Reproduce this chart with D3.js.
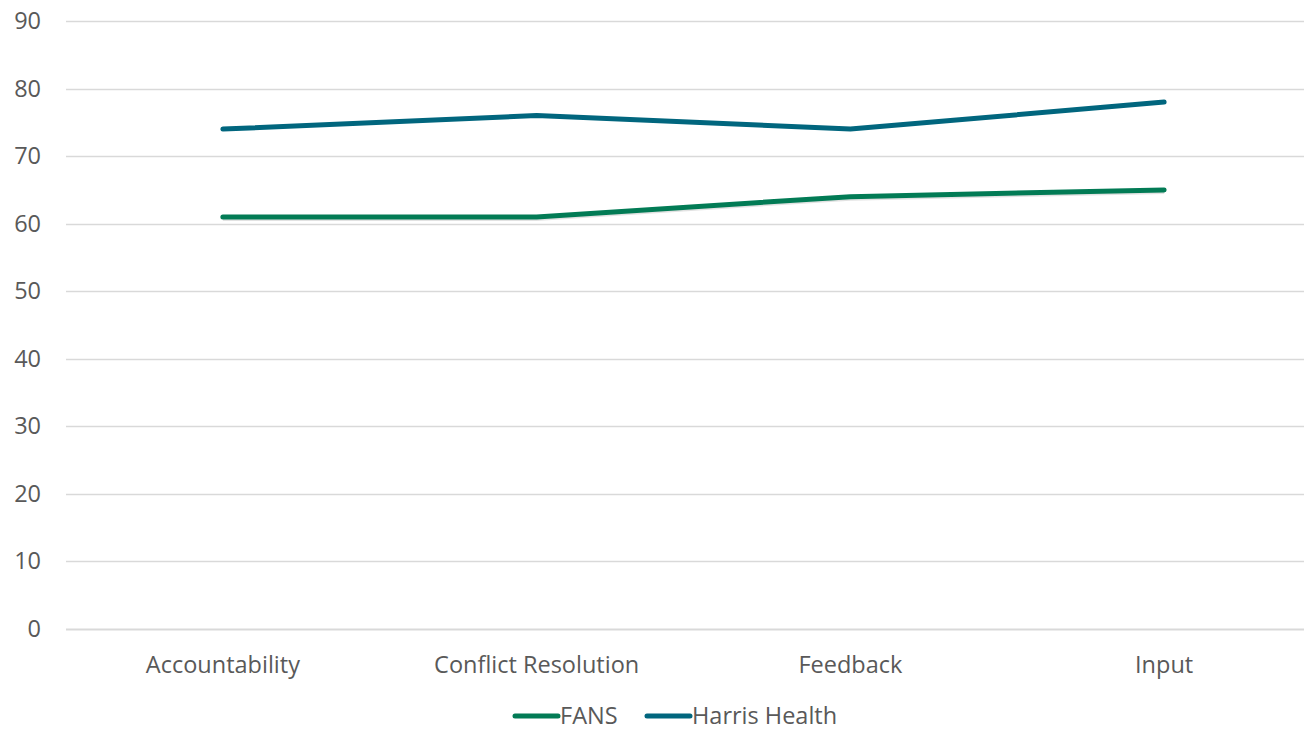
<!DOCTYPE html>
<html>
<head>
<meta charset="utf-8">
<script src="https://cdn.jsdelivr.net/npm/d3@7"></script>
<style>
  html, body { margin: 0; padding: 0; background: #fff; }
  svg { display: block; }
  text { font-family: "Open Sans", "Noto Sans", sans-serif; fill: #595959; }
</style>
</head>
<body>
<svg id="chart" width="1304" height="732"></svg>
<script>
// Survey scores by dimension
const categories = ["Accountability", "Conflict Resolution", "Feedback", "Input"];
const fansValues = [61, 61, 64, 65];
const harrisValues = [74, 76, 74, 78];
const yTicks = [0, 10, 20, 30, 40, 50, 60, 70, 80, 90];
const seriesNames = ["FANS", "Harris Health"];
const seriesColors = ["#027B55", "#01667E"];

const svg = d3.select("#chart");
const width = 1304, height = 732;
const plotLeft = 66, plotRight = 1321, plotTop = 21, plotBottom = 629;
const fontSize = 23.5;

const x = d3.scaleBand().domain(categories).range([plotLeft, plotRight]).padding(0);
const y = d3.scaleLinear().domain([0, 90]).range([plotBottom, plotTop]);

// Horizontal gridlines
svg.append("g")
  .selectAll("line")
  .data(yTicks)
  .join("line")
  .attr("x1", plotLeft)
  .attr("x2", width)
  .attr("y1", d => Math.round(y(d)) + 0.5)
  .attr("y2", d => Math.round(y(d)) + 0.5)
  .attr("stroke", "#d9d9d9")
  .attr("stroke-width", d => d === 0 ? 2 : 1.5);

// Y axis labels
const yAxis = d3.axisLeft(y).tickValues(yTicks).tickSize(0).tickPadding(0);
const gy = svg.append("g").attr("transform", "translate(41,0)").call(yAxis);
gy.select(".domain").remove();
gy.selectAll("text")
  .attr("font-size", fontSize)
  .attr("fill", "#595959")
  .style("font-family", "'Open Sans', 'Noto Sans', sans-serif");

// X axis labels
const xAxis = d3.axisBottom(x).tickSize(0).tickPadding(0);
const gx = svg.append("g").attr("transform", `translate(0,${plotBottom + 27})`).call(xAxis);
gx.select(".domain").remove();
gx.selectAll("text")
  .attr("font-size", fontSize)
  .attr("fill", "#595959")
  .style("font-family", "'Open Sans', 'Noto Sans', sans-serif");

const line = d3.line()
  .x((d, i) => x(categories[i]) + x.bandwidth() / 2)
  .y(d => y(d));

// Soft shadow under the FANS line
svg.append("path")
  .datum(fansValues)
  .attr("d", line)
  .attr("transform", "translate(0,3)")
  .attr("fill", "none")
  .attr("stroke", "#cfcfcf")
  .attr("stroke-width", 2)
  .attr("stroke-opacity", 0.6);

[fansValues, harrisValues].forEach((vals, i) => {
  svg.append("path")
    .datum(vals)
    .attr("d", line)
    .attr("fill", "none")
    .attr("stroke", seriesColors[i])
    .attr("stroke-width", 5)
    .attr("stroke-linecap", "round")
    .attr("stroke-linejoin", "round");
});

// Legend
const legendY = 716;
const legendItems = [
  { name: seriesNames[0], color: seriesColors[0], x: 515 },
  { name: seriesNames[1], color: seriesColors[1], x: 647 }
];
const lg = svg.append("g");
legendItems.forEach(item => {
  lg.append("line")
    .attr("x1", item.x).attr("x2", item.x + 43)
    .attr("y1", legendY).attr("y2", legendY)
    .attr("stroke", item.color)
    .attr("stroke-width", 5)
    .attr("stroke-linecap", "round");
  lg.append("text")
    .attr("x", item.x + 45)
    .attr("y", legendY)
    .attr("dy", "0.35em")
    .attr("font-size", fontSize)
    .text(item.name);
});
</script>
</body>
</html>
